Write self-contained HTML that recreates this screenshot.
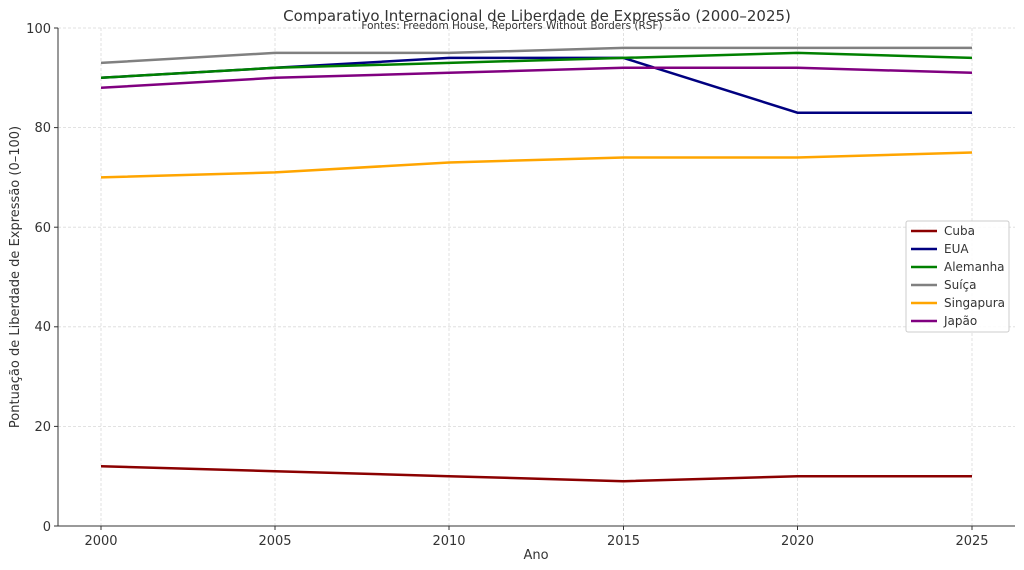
<!DOCTYPE html>
<html><head><meta charset="utf-8"><style>
body{margin:0;background:#fff;}
svg{display:block;font-family:"DejaVu Sans","Liberation Sans",sans-serif;}
</style></head><body>
<svg width="1024" height="570" viewBox="0 0 1024 570" xmlns="http://www.w3.org/2000/svg">
<rect width="1024" height="570" fill="#fff"/>
<g stroke="#d9d9d9" stroke-width="0.8" stroke-dasharray="3,2">
<line x1="101" y1="28" x2="101" y2="526"/><line x1="275" y1="28" x2="275" y2="526"/>
<line x1="449" y1="28" x2="449" y2="526"/><line x1="623.5" y1="28" x2="623.5" y2="526"/>
<line x1="797.5" y1="28" x2="797.5" y2="526"/><line x1="972" y1="28" x2="972" y2="526"/>
<line x1="58" y1="426.4" x2="1015" y2="426.4"/><line x1="58" y1="326.8" x2="1015" y2="326.8"/>
<line x1="58" y1="227.2" x2="1015" y2="227.2"/><line x1="58" y1="127.6" x2="1015" y2="127.6"/>
<line x1="58" y1="28" x2="1015" y2="28"/>
</g>
<g stroke="#333" stroke-width="1"><line x1="58" y1="28" x2="58" y2="526"/><line x1="58" y1="526" x2="1015" y2="526"/>
<line x1="101" y1="526" x2="101" y2="530"/><line x1="275" y1="526" x2="275" y2="530"/><line x1="449" y1="526" x2="449" y2="530"/><line x1="623.5" y1="526" x2="623.5" y2="530"/><line x1="797.5" y1="526" x2="797.5" y2="530"/><line x1="972" y1="526" x2="972" y2="530"/>
<line x1="54" y1="526" x2="58" y2="526"/><line x1="54" y1="426.4" x2="58" y2="426.4"/><line x1="54" y1="326.8" x2="58" y2="326.8"/><line x1="54" y1="227.2" x2="58" y2="227.2"/><line x1="54" y1="127.6" x2="58" y2="127.6"/><line x1="54" y1="28" x2="58" y2="28"/>
</g>
<g font-size="13" fill="#333" text-anchor="middle">
<text x="101" y="545">2000</text><text x="275" y="545">2005</text><text x="449" y="545">2010</text><text x="623.5" y="545">2015</text><text x="797.5" y="545">2020</text><text x="972" y="545">2025</text>
</g>
<g font-size="13" fill="#333" text-anchor="end">
<text x="51" y="531">0</text><text x="51" y="431">20</text><text x="51" y="331">40</text><text x="51" y="232">60</text><text x="51" y="132">80</text><text x="51" y="33">100</text>
</g>
<text x="536" y="559" font-size="13" fill="#333" text-anchor="middle">Ano</text>
<text transform="translate(19,277) rotate(-90)" font-size="13" fill="#333" text-anchor="middle">Pontuação de Liberdade de Expressão (0–100)</text>
<text x="537" y="21" font-size="15" fill="#333" text-anchor="middle">Comparativo Internacional de Liberdade de Expressão (2000–2025)</text>
<text x="512" y="29" font-size="10.5" fill="#333" text-anchor="middle">Fontes: Freedom House, Reporters Without Borders (RSF)</text>
<g fill="none" stroke-width="2.5">
<polyline stroke="#8b0000" points="101,466.2 275,471.2 449,476.2 623.5,481.2 797.5,476.2 972,476.2"/>
<polyline stroke="#000080" points="101,77.8 275,67.8 449,57.9 623.5,57.9 797.5,112.7 972,112.7"/>
<polyline stroke="#008000" points="101,77.8 275,67.8 449,62.9 623.5,57.9 797.5,52.9 972,57.9"/>
<polyline stroke="#808080" points="101,62.9 275,52.9 449,52.9 623.5,47.9 797.5,47.9 972,47.9"/>
<polyline stroke="#ffa500" points="101,177.4 275,172.4 449,162.5 623.5,157.5 797.5,157.5 972,152.5"/>
<polyline stroke="#800080" points="101,87.8 275,77.8 449,72.8 623.5,67.8 797.5,67.8 972,72.8"/>
</g>
<rect x="906" y="221" width="103" height="111" fill="#fff" fill-opacity="0.85" stroke="#ccc" rx="2"/>
<g stroke-width="2.5">
<line x1="911" y1="231" x2="937" y2="231" stroke="#8b0000"/>
<line x1="911" y1="249" x2="937" y2="249" stroke="#000080"/>
<line x1="911" y1="267" x2="937" y2="267" stroke="#008000"/>
<line x1="911" y1="285" x2="937" y2="285" stroke="#808080"/>
<line x1="911" y1="303" x2="937" y2="303" stroke="#ffa500"/>
<line x1="911" y1="321" x2="937" y2="321" stroke="#800080"/>
</g>
<g font-size="12" fill="#333">
<text x="944" y="235">Cuba</text><text x="944" y="253">EUA</text><text x="944" y="271">Alemanha</text><text x="944" y="289">Suíça</text><text x="944" y="307">Singapura</text><text x="944" y="325">Japão</text>
</g>
</svg>
</body></html>
